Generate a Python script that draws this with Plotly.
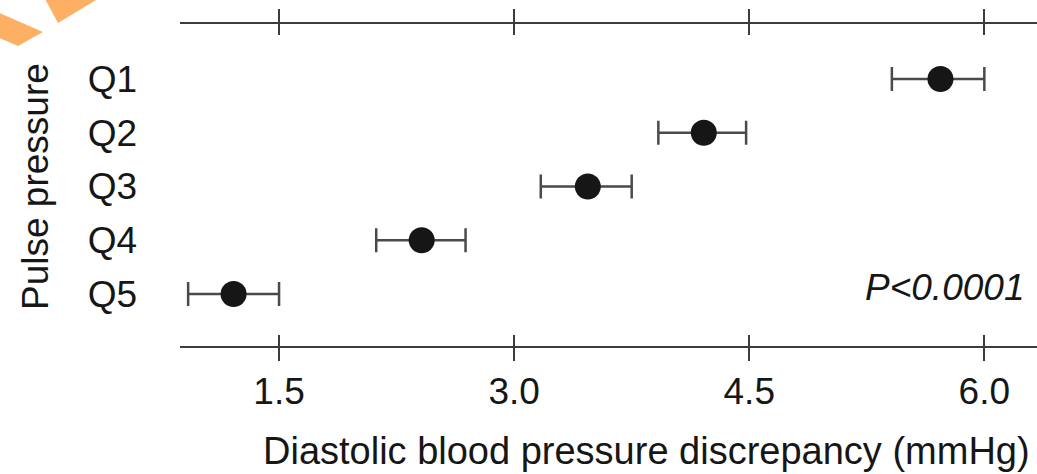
import plotly.graph_objects as go

# Pulse pressure quintiles and the diastolic BP discrepancy (mean with 95% CI)
quintiles = ["Q1", "Q2", "Q3", "Q4", "Q5"]
positions = [1, 2, 3, 4, 5]
mean_diff = [5.72, 4.21, 3.47, 2.41, 1.21]
ci_low = [5.41, 3.92, 3.17, 2.12, 0.92]
ci_high = [6.00, 4.48, 3.75, 2.69, 1.50]
x_ticks = [1.5, 3.0, 4.5, 6.0]
x_tick_labels = ["1.5", "3.0", "4.5", "6.0"]

W, H = 1037, 474
L, R, T, B = 180, 0, 24, 128
PW, PH = W - L - R, H - T - B

FONT = "Liberation Sans, Arial, Helvetica, sans-serif"
TXT = "#161616"
AX = "#3c3c3c"


def px(x):
    return (x - L) / PW


def py(y):
    return 1 - (y - T) / PH


fig = go.Figure()
fig.add_trace(go.Scatter(
    x=mean_diff,
    y=positions,
    mode="markers",
    marker=dict(size=26, color="#161616", line=dict(width=0)),
    error_x=dict(
        type="data",
        symmetric=False,
        array=[h - m for h, m in zip(ci_high, mean_diff)],
        arrayminus=[m - l for m, l in zip(mean_diff, ci_low)],
        color="#4a4a4a",
        thickness=2.5,
        width=12,
    ),
    showlegend=False,
    hoverinfo="skip",
))

# transparent copy on the overlay axis so its inward ticks get drawn
fig.add_trace(go.Scatter(
    x=mean_diff,
    y=positions,
    xaxis="x2",
    mode="markers",
    marker=dict(size=1, opacity=0),
    showlegend=False,
    hoverinfo="skip",
))

axis_common = dict(
    range=[0.868, 6.336],
    tickvals=x_ticks,
    ticktext=x_tick_labels,
    showgrid=False,
    zeroline=False,
    tickcolor=AX,
    tickwidth=2,
)

fig.update_layout(
    width=W,
    height=H,
    margin=dict(l=L, r=R, t=T, b=B, pad=0),
    paper_bgcolor="white",
    plot_bgcolor="white",
    font=dict(family=FONT, size=37, color=TXT),
    xaxis=dict(
        **axis_common,
        showline=True,
        linecolor=AX,
        linewidth=2,
        mirror="allticks",
        ticks="outside",
        ticklen=13,
        tickfont=dict(size=37, color=TXT),
        ticklabelstandoff=-1,
    ),
    xaxis2=dict(
        **axis_common,
        overlaying="x",
        matches="x",
        side="bottom",
        showline=False,
        mirror="allticks",
        ticks="inside",
        ticklen=11,
        showticklabels=False,
    ),
    yaxis=dict(
        range=[5.967, -0.023],
        tickvals=positions,
        ticktext=quintiles,
        showline=False,
        showgrid=False,
        zeroline=False,
        ticks="",
        tickfont=dict(size=37, color=TXT),
        ticklabelstandoff=42,
    ),
)

# x-axis title
fig.add_annotation(
    text="Diastolic blood pressure discrepancy (mmHg)",
    xref="paper", yref="paper",
    x=px(646), y=py(451),
    xanchor="center", yanchor="middle",
    showarrow=False,
    font=dict(family=FONT, size=38, color=TXT),
)

# y-axis title
fig.add_annotation(
    text="Pulse pressure",
    xref="paper", yref="paper",
    x=px(35), y=py(187),
    xanchor="center", yanchor="middle",
    textangle=-90,
    showarrow=False,
    font=dict(family=FONT, size=37, color=TXT),
)

# trend test result
fig.add_annotation(
    text="<i>P<0.0001</i>",
    xref="paper", yref="paper",
    x=px(1026), y=py(287),
    xanchor="right", yanchor="middle",
    showarrow=False,
    font=dict(family=FONT, size=37, color=TXT),
)

# orange corner decoration
ORANGE = "#fdb064"


def poly(points):
    p = " L ".join(f"{px(a):.5f},{py(b):.5f}" for a, b in points)
    return f"M {p} Z"


fig.add_shape(type="path", xref="paper", yref="paper",
              path=poly([(-3, 12), (43, 32), (18, 46), (-3, 37)]),
              fillcolor=ORANGE, line=dict(width=0), layer="above")
fig.add_shape(type="path", xref="paper", yref="paper",
              path=poly([(44, -3), (101, -3), (58, 23)]),
              fillcolor=ORANGE, line=dict(width=0), layer="above")

fig.write_html("out.html", config={"displayModeBar": False})
